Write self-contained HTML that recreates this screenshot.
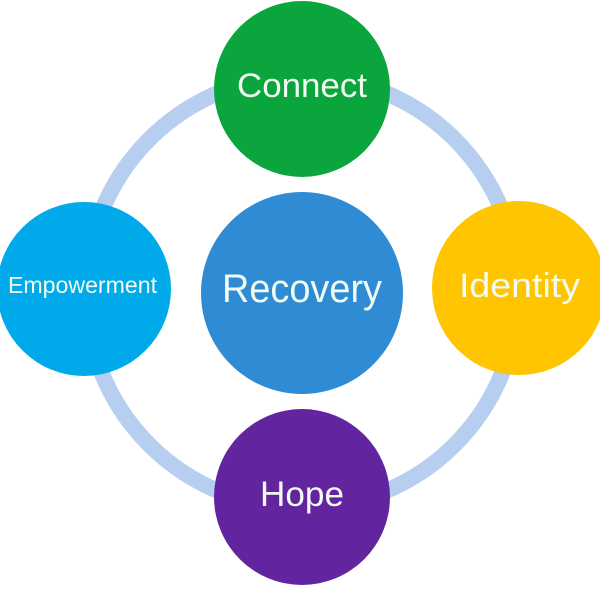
<!DOCTYPE html>
<html>
<head>
<meta charset="utf-8">
<style>
  html, body { margin: 0; padding: 0; background: #ffffff; }
  svg { display: block; }
  text { font-family: "Liberation Sans", "DejaVu Sans", sans-serif; fill: #f2fbf2; }
</style>
</head>
<body>
<svg width="600" height="600" viewBox="0 0 600 600" xmlns="http://www.w3.org/2000/svg">
  <rect width="600" height="600" fill="#ffffff"/>
  <!-- ring -->
  <circle cx="302" cy="292" r="216" fill="none" stroke="#b6cff0" stroke-width="16"/>
  <!-- nodes -->
  <circle cx="302" cy="89" r="88" fill="#0aa53c"/>
  <circle cx="84" cy="289" r="87" fill="#00aaea"/>
  <circle cx="519" cy="288" r="87" fill="#fec500"/>
  <circle cx="302" cy="497" r="88" fill="#63259f"/>
  <circle cx="302" cy="293" r="101" fill="#2f8bd3"/>
  <!-- labels -->
  <text x="302" y="97" font-size="34" text-anchor="middle" textLength="130" lengthAdjust="spacingAndGlyphs">Connect</text>
  <text x="302" y="302" font-size="40" text-anchor="middle" textLength="160" lengthAdjust="spacingAndGlyphs">Recovery</text>
  <text x="82.5" y="293" font-size="23" text-anchor="middle" textLength="149" lengthAdjust="spacingAndGlyphs">Empowerment</text>
  <text x="519.5" y="297" font-size="34" text-anchor="middle" textLength="121" lengthAdjust="spacingAndGlyphs">Identity</text>
  <text x="302" y="506" font-size="35" text-anchor="middle" textLength="84" lengthAdjust="spacingAndGlyphs">Hope</text>
</svg>
</body>
</html>
